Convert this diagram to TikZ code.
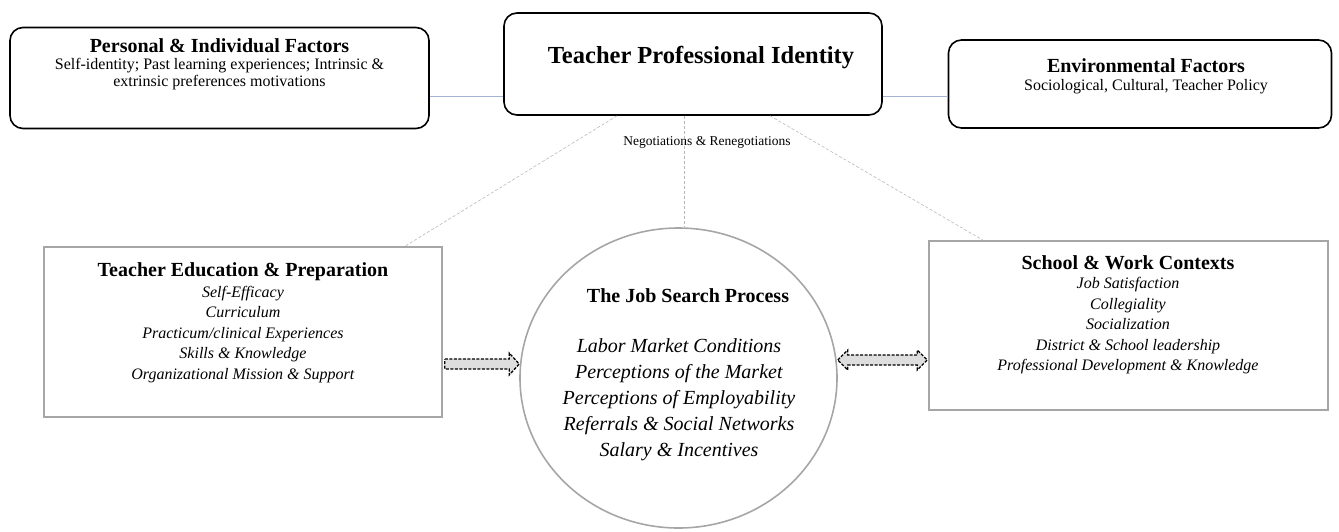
\documentclass[tikz,border=0pt]{standalone}
\usepackage{fontspec}
\setmainfont{Liberation Serif}
\usetikzlibrary{arrows.meta,shapes.geometric,calc}
\newcommand{\boxtitle}[1]{{\fontsize{20}{24}\selectfont\bfseries #1}}
\begin{document}
\begin{tikzpicture}[x=1pt,y=-1pt,
  roundbox/.style={draw=black, line width=1.6pt, rounded corners=13pt, inner sep=0pt},
  graybox/.style={draw=black!35, line width=1.6pt, inner sep=0pt},
  bodytext/.style={inner sep=0pt, anchor=base},
  bluelink/.style={draw={rgb,255:red,165;green,178;blue,212}, line width=1pt},
  neglink/.style={draw=black!28, dash pattern=on 3pt off 2pt, line width=0.6pt},
  blockarrow/.style={draw=black, fill=black!13, dash pattern=on 3pt off 1.5pt, line width=1.3pt, line join=miter},
]
\useasboundingbox (0,0) rectangle (1339,531);

% boxes
\node[roundbox, minimum width=419pt, minimum height=101pt] (pif) at (219.5,78) {};
\node[roundbox, minimum width=378pt, minimum height=102pt] (tpi) at (693,64) {};
\node[roundbox, minimum width=383pt, minimum height=88pt] (env) at (1140,84) {};
\node[graybox, minimum width=398pt, minimum height=170pt] (te) at (243,332) {};
\node[graybox, minimum width=399pt, minimum height=169pt] (sw) at (1128.5,325.5) {};
\node[draw=black!35, line width=1.6pt, ellipse, minimum width=317pt, minimum height=300pt, inner sep=0pt] (js) at (678.5,378) {};

% texts
\node[bodytext] (pif-t) at (219.5,52) {\fontsize{16}{17}\selectfont\begin{tabular}[t]{@{}c@{}}\boxtitle{Personal \& Individual Factors}\\
  Self-identity; Past learning experiences; Intrinsic \&\\ extrinsic preferences motivations\end{tabular}};
\node[bodytext] (tpi-t) at (701,63) {\fontsize{24.5}{28}\selectfont\bfseries Teacher Professional Identity};
\node[bodytext] (env-t) at (1146,72) {\fontsize{16}{18}\selectfont\begin{tabular}[t]{@{}c@{}}\boxtitle{Environmental Factors}\\
  Sociological, Cultural, Teacher Policy\end{tabular}};
\node[bodytext] (neg) at (707,145) {\fontsize{13.5}{16}\selectfont Negotiations \& Renegotiations};
\node[bodytext] (te-t) at (243,276) {\fontsize{16}{20.5}\selectfont\begin{tabular}[t]{@{}c@{}}\boxtitle{Teacher Education \& Preparation}\\[0.5pt]
  \textit{Self-Efficacy}\\ \textit{Curriculum}\\ \textit{Practicum/clinical Experiences}\\
  \textit{Skills \& Knowledge}\\ \textit{Organizational Mission \& Support}\end{tabular}};
\node[bodytext] (sw-t) at (1128,269) {\fontsize{16}{20.5}\selectfont\begin{tabular}[t]{@{}c@{}}\boxtitle{School \& Work Contexts}\\[-1pt]
  \textit{Job Satisfaction}\\ \textit{Collegiality}\\ \textit{Socialization}\\
  \textit{District \& School leadership}\\ \textit{Professional Development \& Knowledge}\end{tabular}};
\node[bodytext] (js-h) at (688,302) {\fontsize{20}{24}\selectfont\bfseries The Job Search Process};
\node[bodytext] (js-t) at (679,352) {\fontsize{20}{26}\selectfont\begin{tabular}[t]{@{}c@{}}\textit{Labor Market Conditions}\\
  \textit{Perceptions of the Market}\\ \textit{Perceptions of Employability}\\
  \textit{Referrals \& Social Networks}\\ \textit{Salary \& Incentives}\end{tabular}};

% links
\draw[bluelink] (pif.east |- 0,96) -- (tpi.west |- 0,96);
\draw[bluelink] (tpi.east |- 0,96) -- (env.west |- 0,96);
\draw[neglink] (617,0 |- tpi.south) -- (405,0 |- te.north);
\draw[neglink] (684,0 |- tpi.south) -- (684,0 |- js.north);
\draw[neglink] (770,0 |- tpi.south) -- (983,0 |- sw.north);

% block arrows
\coordinate (a1s) at ($(te.east |- 0,364)+(2,0)$);
\coordinate (a1e) at (js.west |- 0,364);
\draw[blockarrow] ($(a1s)+(0,-5)$) -- ($(a1e)+(-10,-5)$) -- ($(a1e)+(-10,-11)$) -- (a1e)
  -- ($(a1e)+(-10,11)$) -- ($(a1e)+(-10,5)$) -- ($(a1s)+(0,5)$) -- cycle;
\coordinate (a2s) at (js.east |- 0,360);
\coordinate (a2e) at ($(sw.west |- 0,360)+(-1,0)$);
\draw[blockarrow] (a2s) -- ($(a2s)+(10,-10)$) -- ($(a2s)+(10,-5)$) -- ($(a2e)+(-10,-5)$)
  -- ($(a2e)+(-10,-10)$) -- (a2e) -- ($(a2e)+(-10,10)$) -- ($(a2e)+(-10,5)$)
  -- ($(a2s)+(10,5)$) -- ($(a2s)+(10,10)$) -- cycle;
\end{tikzpicture}
\end{document}
